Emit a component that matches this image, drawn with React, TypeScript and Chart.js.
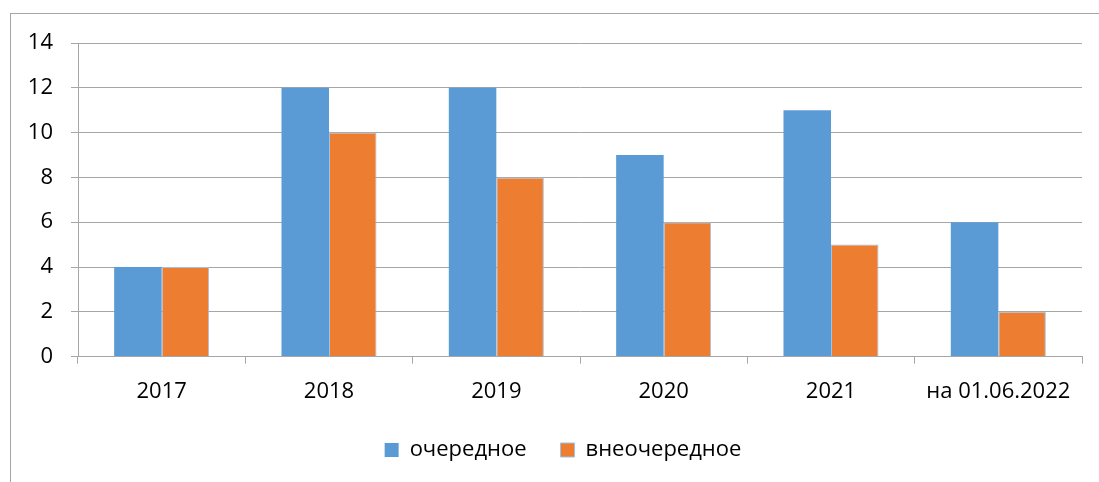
import React, { useEffect, useRef } from "react";
import { Chart, registerables } from "chart.js";

Chart.register(...registerables);

const categories = ["2017", "2018", "2019", "2020", "2021", "на 01.06.2022"];
const regularValues = [4, 12, 12, 9, 11, 6];
const extraValues = [4, 10, 8, 6, 5, 2];
const seriesNames = ["очередное", "внеочередное"];
const yTicksMax = 14;
const yTicksStep = 2;

const FONT = "'Open Sans', 'Noto Sans', sans-serif";
const GRID = "#a6a6a6";

const legendShift = {
  id: "legendShift",
  afterLayout(chart: any) {
    if (chart.legend) {
      chart.legend.left += 12;
      chart.legend.right += 12;
    }
  },
};

export default function App() {
  const ref = useRef<HTMLCanvasElement | null>(null);

  useEffect(() => {
    if (!ref.current) return;
    const chart = new Chart(ref.current, {
      type: "bar",
      data: {
        labels: categories,
        datasets: [
          {
            label: seriesNames[0],
            data: regularValues,
            backgroundColor: "#5b9bd5",
            borderColor: "#5b9bd5",
            borderWidth: 0,
            categoryPercentage: 0.568,
            barPercentage: 1,
          },
          {
            label: seriesNames[1],
            data: extraValues,
            backgroundColor: "#ed7d31",
            borderColor: "#9dc3e6",
            borderWidth: 1,
            categoryPercentage: 0.568,
            barPercentage: 1,
          },
        ],
      },
      plugins: [legendShift],
      options: {
        responsive: false,
        animation: false,
        layout: { padding: { left: 20, right: 17, top: 43, bottom: 11 } },
        plugins: {
          tooltip: { enabled: false },
          legend: {
            position: "bottom",
            labels: {
              font: { family: FONT, size: 22 },
              color: "#000",
              boxWidth: 14,
              boxHeight: 14,
              padding: 34,
            },
          },
        },
        scales: {
          x: {
            grid: {
              offset: true,
              drawOnChartArea: false,
              drawTicks: true,
              tickLength: 7,
              color: GRID,
            },
            border: { display: true, color: GRID },
            ticks: {
              font: { family: FONT, size: 22 },
              color: "#000",
              padding: 15,
              maxRotation: 0,
              autoSkip: false,
            },
            afterFit: (scale: any) => {
              scale.height = scale.height - 15;
            },
          },
          y: {
            min: 0,
            max: yTicksMax,
            ticks: {
              stepSize: yTicksStep,
              font: { family: FONT, size: 22 },
              color: "#000",
              padding: 18,
            },
            grid: { color: GRID, tickLength: 7, drawTicks: true },
            border: { display: true, color: GRID },
            afterFit: (scale: any) => {
              scale.width = 58;
            },
          },
        },
      },
    });
    return () => chart.destroy();
  }, []);

  return (
    <div
      style={{
        position: "fixed",
        left: 0,
        top: 0,
        width: 1099,
        height: 482,
        overflow: "hidden",
        background: "#fff",
      }}
    >
      <div
        style={{
          position: "absolute",
          left: 10,
          top: 13,
          width: 1200,
          height: 600,
          border: "1px solid #a6a6a6",
        }}
      />
      <canvas
        ref={ref}
        width={1099}
        height={482}
        style={{ position: "absolute", left: 0, top: 0 }}
      />
    </div>
  );
}
